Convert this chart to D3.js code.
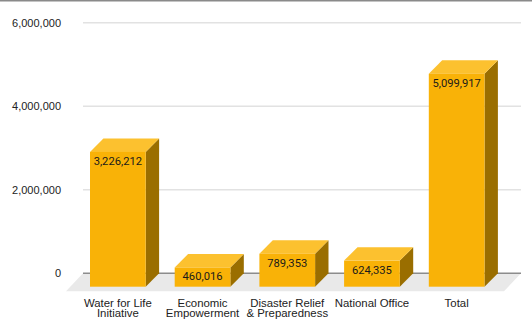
<!DOCTYPE html>
<html>
<head>
<meta charset="utf-8">
<script src="https://cdn.jsdelivr.net/npm/d3@7"></script>
<style>
  html, body { margin: 0; padding: 0; background: #fff; }
  svg { display: block; }
</style>
</head>
<body>
<div id="chart"></div>
<script>
const categories = [["Water for Life", "Initiative"], ["Economic", "Empowerment"], ["Disaster Relief", "& Preparedness"], ["National Office"], ["Total"]];
const values = [3226212, 460016, 789353, 624335, 5099917];
const yTicks = [0, 2000000, 4000000, 6000000];

const W = 532, H = 333;
const depth = 13.4;          // bar 3D depth
const floorDx = 17, floorDy = 18;

const svg = d3.select("#chart").append("svg").attr("width", W).attr("height", H);

const y = d3.scaleLinear().domain([0, 6000000]).range([273.3, 22.7]);
const x = d3.scaleBand().domain(d3.range(values.length)).range([75.5, 499]).paddingInner(0.3424).paddingOuter(0.1712);

const gridX0 = 83, gridX1 = 521;

// top border
svg.append("line").attr("x1", 0).attr("x2", W).attr("y1", 0.75).attr("y2", 0.75)
  .attr("stroke", "#8a8a8a").attr("stroke-width", 1.5);

// floor
const y0 = y(0);
svg.append("polygon")
  .attr("points", [[gridX0, y0], [gridX1, y0], [gridX1 - floorDx, y0 + floorDy], [gridX0 - floorDx, y0 + floorDy]].map(p => p.join(",")).join(" "))
  .attr("fill", "#e9e9e9");

// gridlines
svg.append("g").selectAll("line").data(yTicks.filter(t => t !== 0)).join("line")
  .attr("x1", gridX0).attr("x2", gridX1)
  .attr("y1", d => y(d)).attr("y2", d => y(d))
  .attr("stroke", "#e2e2e2").attr("stroke-width", 1.4);

// zero line
svg.append("line").attr("x1", gridX0).attr("x2", gridX1).attr("y1", y0).attr("y2", y0)
  .attr("stroke", "#8c8c8c").attr("stroke-width", 1.4);

// y tick labels
svg.append("g").selectAll("text").data(yTicks).join("text")
  .attr("x", 61).attr("y", d => y(d)).attr("dy", "0.35em")
  .attr("text-anchor", "end")
  .attr("font-family", "Arial, 'Liberation Sans', sans-serif").attr("font-size", 11)
  .attr("fill", "#222")
  .text(d => d3.format(",")(d));

// bars
const bars = svg.append("g").selectAll("g").data(values).join("g");
bars.each(function(v, i) {
  const g = d3.select(this);
  const xl = x(i), w = x.bandwidth();
  const yt = y(v) + depth, yb = y(0) + depth;
  // side
  g.append("polygon")
    .attr("points", [[xl + w, yt], [xl + w + depth, yt - depth], [xl + w + depth, yb - depth], [xl + w, yb]].map(p => p.join(",")).join(" "))
    .attr("fill", "#9a6e00");
  // top
  g.append("polygon")
    .attr("points", [[xl, yt], [xl + w, yt], [xl + w + depth, yt - depth], [xl + depth, yt - depth]].map(p => p.join(",")).join(" "))
    .attr("fill", "#fcc12f");
  // front
  g.append("rect").attr("x", xl).attr("y", yt).attr("width", w).attr("height", yb - yt)
    .attr("fill", "#f9b207");
  // value label
  g.append("text")
    .attr("x", xl + w / 2).attr("y", yt + 9).attr("dy", "0.35em")
    .attr("text-anchor", "middle")
    .attr("font-family", "Roboto, sans-serif").attr("font-size", 11.2)
    .attr("fill", "#1a1a1a")
    .text(d3.format(",")(v));
});

// category labels
const cat = svg.append("g").selectAll("text").data(categories).join("text")
  .attr("text-anchor", "middle")
  .attr("font-family", "Arial, 'Liberation Sans', sans-serif").attr("font-size", 11.4)
  .attr("fill", "#222")
  .attr("transform", (d, i) => `translate(${x(i) + x.bandwidth() / 2},306.5)`);
cat.selectAll("tspan").data(d => d).join("tspan")
  .attr("x", 0).attr("dy", (d, j) => j === 0 ? 0 : 10.8)
  .text(d => d);
</script>
</body>
</html>
